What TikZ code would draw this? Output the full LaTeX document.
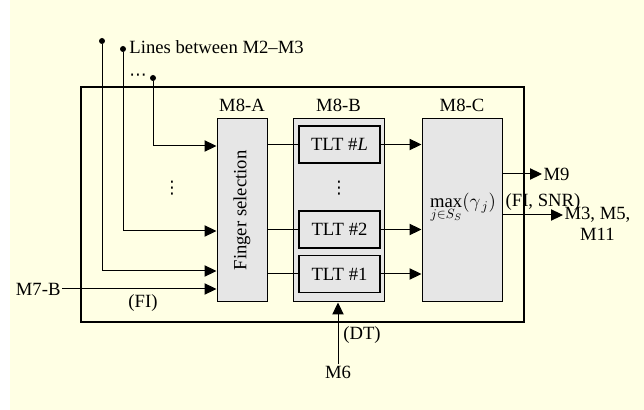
\documentclass[tikz,border=0pt]{standalone}
\usepackage{fontspec}
\setmainfont{Liberation Serif}
\newfontfamily\dotsfont{DejaVu Sans}
\usetikzlibrary{arrows.meta,positioning}

\definecolor{bgyellow}{RGB}{255,255,228}
\definecolor{boxgray}{RGB}{230,230,230}

\tikzset{every picture/.style={line width=0.75pt}}
\tikzset{
  every node/.append style={font=\fontsize{14}{17}\selectfont},
  blk/.style={draw, fill=boxgray, inner sep=0pt},
  tltbox/.style={draw, line width=1.1pt, fill=boxgray, minimum width=60.75pt, minimum height=27.75pt, inner sep=0pt},
  arr/.style={-{Triangle[length=9pt,width=8.5pt]}},
  dot/.style={circle, fill, inner sep=0pt, minimum size=4.5pt},
  lbl/.style={inner sep=0.75pt},
  dotlbl/.style={inner sep=0.75pt, font=\dotsfont\fontsize{13}{15}\selectfont}
}

\begin{document}
\begin{tikzpicture}[x=0.75pt,y=0.75pt,yscale=-1,xscale=1]
		\useasboundingbox (0,0) rectangle (644,410);
		\fill [bgyellow] (10,0) rectangle (644,410);
		
		%Outer frame
		\draw [line width=1.5pt] (81,87) rectangle (524,322);
		
		%Blocks
		\node [blk, minimum width=37.5pt, minimum height=137.25pt] (selA) at (242,210.5) {};
		\node [blk, minimum width=68.25pt, minimum height=137.25pt] (selB) at (338.5,210.5) {};
		\node [blk, minimum width=60pt, minimum height=137.25pt] (selC) at (462,210.5) {};
		\node [tltbox] (tltL) at (339.5,144.5) {TLT \#\textit{L}};
		\node [tltbox] (tltTwo) at (339.5,229.5) {TLT \#2};
		\node [tltbox] (tltOne) at (339.5,274) {TLT \#1};
		
		% Text Node
		\node [lbl, rotate=90] (finger) at (selA.center) {Finger selection};
		% Text Node
		\node [lbl] (maxg) at (463,208) {$\max\limits_{j\in S_S}(\gamma_{\,j})$};
		% Text Node
		\node [lbl, above=4pt of selA] (labA) {M8-A};
		% Text Node
		\node [lbl, above=4pt of selB] (labB) {M8-B};
		% Text Node
		\node [lbl, above=4pt of selC] (labC) {M8-C};
		
		%Input dots
		\node [dot] (inA) at (102,41) {};
		\node [dot] (inB) at (123,49) {};
		\node [dot] (inC) at (153,78) {};
		% Text Node
		\node [lbl, anchor=west] (lines) at (128,47) {Lines between M2--M3};
		% Text Node
		\node [dotlbl] (hdots) at (138,77) {⋯};
		% Text Node
		\node [dotlbl] (vdotsA) at (172,188) {⋮};
		% Text Node
		\node [dotlbl] (vdotsB) at (339,188) {⋮};
		
		%Straight Lines
		\draw [arr] (inC) |- (selA.west |- 0,146);
		\draw [arr] (inB) |- (selA.west |- 0,231);
		\draw [arr] (inA) |- (selA.west |- 0,271);
		
		% Text Node
		\node [lbl, anchor=east] (mSevenB) at (62,289) {M7-B};
		\draw [arr] (mSevenB.east) -- (selA.west |- mSevenB.east);
		% Text Node
		\node [lbl] (fi) at (143,303) {(FI)};
		
		%Straight Lines
		\draw (selA.east |- tltL.west) -- (tltL.west);
		\draw (selA.east |- tltTwo.west) -- (tltTwo.west);
		\draw (selA.east |- tltOne.west) -- (tltOne.west);
		\draw [arr] (tltL.east) -- (tltL.east -| selC.west);
		\draw [arr] (tltTwo.east) -- (tltTwo.east -| selC.west);
		\draw [arr] (tltOne.east) -- (tltOne.east -| selC.west);
		
		%Outputs
		\node [lbl, anchor=west] (mNine) at (542,174) {M9};
		\draw [arr] (selC.east |- mNine.west) -- (mNine.west);
		\node [lbl, anchor=west] (mThree) at (563,215) {M3, M5,};
		\node [lbl, below=2pt of mThree] (mEleven) {M11};
		\draw [arr] (selC.east |- mThree.west) -- (mThree.west);
		% Text Node
		\node [lbl] (fisnr) at (543,202) {(FI, SNR)};
		
		%Control input
		\node [lbl] (mSix) at (338,372) {M6};
		\draw [arr] (mSix.north) -- (mSix.north |- selB.south);
		% Text Node
		\node [lbl] (dt) at (362,335) {(DT)};
		
	\end{tikzpicture}
\end{document}
